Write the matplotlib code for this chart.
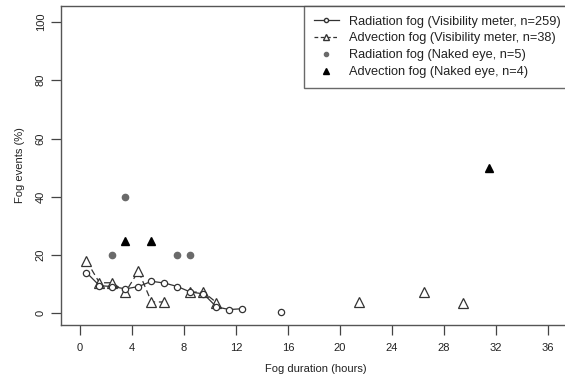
import numpy as np
import matplotlib.pyplot as plt
from matplotlib.lines import Line2D

plt.rcParams['font.family'] = ['Liberation Sans', 'DejaVu Sans']

# radiation fog, visibility meter (hour bins, % of events); nan = line break
rad_x = [0.5, 1.5, 2.5, 3.5, 4.5, 5.5, 6.5, 7.5, 8.5, 9.5, 10.5, 11.5, 12.5, np.nan, 15.5]
rad_y = [14, 9.5, 9.2, 8.4, 9.2, 11, 10.4, 9.2, 7.3, 6.7, 2.2, 1.3, 1.6, np.nan, 0.3]

# advection fog, visibility meter
adv_x = [0.5, 1.5, 2.5, 3.5, 4.5, 5.5, 6.5, np.nan, 8.5, 9.5, 10.5, np.nan,
         21.5, np.nan, 26.5, np.nan, 29.5]
adv_y = [18, 10.5, 10.5, 7.3, 14.5, 3.9, 3.9, np.nan, 7.3, 7.3, 3.7, np.nan,
         3.9, np.nan, 7.3, np.nan, 3.7]

# naked eye observations
rad_eye_x = [2.5, 3.5, 7.5, 8.5]
rad_eye_y = [20, 40, 20, 20]
adv_eye_x = [3.5, 5.5, 31.5]
adv_eye_y = [25, 25, 50]

labels = ['Radiation fog (Visibility meter, n=259)',
          'Advection fog (Visibility meter, n=38)',
          'Radiation fog (Naked eye, n=5)',
          'Advection fog (Naked eye, n=4)']

fig = plt.figure(figsize=(5.65, 3.82), dpi=100)
ax = fig.add_axes([61 / 565, 57 / 382, 510 / 565, 319 / 382])

ax.plot(rad_x, rad_y, color='#333333', lw=0.9, marker='o', ms=4.5,
        mfc='white', mec='#333333', mew=0.9, zorder=3)
ax.plot(adv_x, adv_y, color='#333333', lw=0.9, ls=(0, (5, 3)), marker='^', ms=7.5,
        mfc='white', mec='#333333', mew=0.9, zorder=2)
ax.plot(rad_eye_x, rad_eye_y, ls='none', marker='o', ms=4.5, color='#6a6a6a')
ax.plot(adv_eye_x, adv_eye_y, ls='none', marker='^', ms=5.5, color='black')

# x range chosen so the 0..36 ticks land where the reference has them
ax.set_xlim(-1.46, 37.77)
ax.set_ylim(-4, 105.5)
ax.set_xticks(np.arange(0, 37, 4))
ax.set_yticks(np.arange(0, 101, 20))
ax.tick_params(axis='both', length=7, width=0.9, color='#444444', labelsize=8,
               labelcolor='#222222', pad=6)
ax.tick_params(axis='y', pad=4)
for lab in ax.get_yticklabels():
    lab.set_rotation(90)
    lab.set_va('center')
for sp in ax.spines.values():
    sp.set_color('#555555')
    sp.set_linewidth(1.0)

ax.set_xlabel('Fog duration (hours)', fontsize=8, color='#222222', labelpad=8)
ax.set_ylabel('Fog events (%)', fontsize=8, color='#222222', labelpad=8)

handles = [
    Line2D([], [], color='#333333', lw=0.9, marker='o', ms=3, mfc='white', mec='#333333'),
    Line2D([], [], color='#333333', lw=0.9, ls=(0, (3, 2)), marker='^', ms=4.5,
           mfc='white', mec='#333333'),
    Line2D([], [], ls='none', marker='o', ms=3, color='#6a6a6a'),
    Line2D([], [], ls='none', marker='^', ms=4, color='black'),
]
leg = ax.legend(handles, labels, loc='upper left', bbox_to_anchor=(243 / 510, 1.0),
                fontsize=9.2, frameon=True, fancybox=False, handlelength=2.0,
                handletextpad=0.8, borderpad=0.75, labelspacing=0.38,
                borderaxespad=0)
leg.get_frame().set_edgecolor('#444444')
leg.get_frame().set_linewidth(1.0)
for t in leg.get_texts():
    t.set_color('#222222')

fig.savefig('out.png', dpi=100)
